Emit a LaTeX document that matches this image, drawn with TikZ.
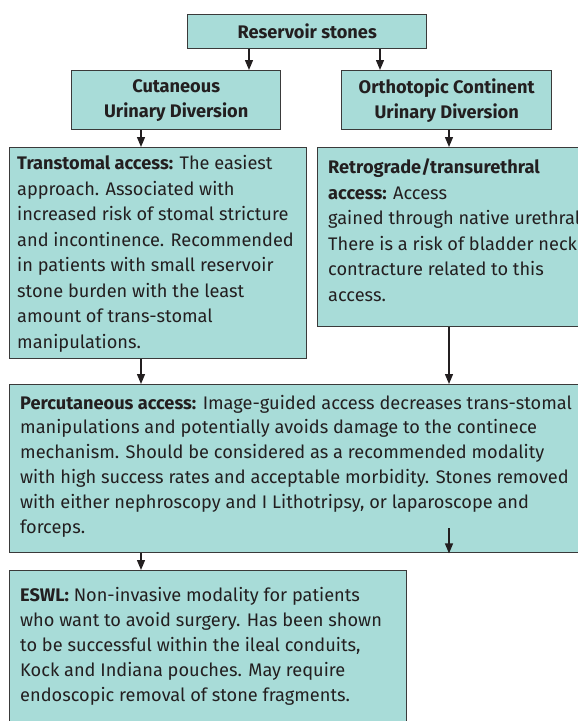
\documentclass[tikz,border=0pt]{standalone}
\usepackage{fontspec}
\setmainfont{Fira Sans}
\usetikzlibrary{arrows.meta}
\definecolor{boxfill}{HTML}{A8DCD8}
\definecolor{boxline}{HTML}{3A3A3A}
\definecolor{txt}{HTML}{231F20}
\newcommand{\mylines}[1]{\begin{tabular}[t]{@{}l@{}}#1\end{tabular}}
\tikzset{
  box/.style={draw=boxline, fill=boxfill, line width=1.4pt, inner sep=0pt, text=txt,
    font=\fontsize{18.2}{25}\selectfont},
  body/.style={inner sep=0pt, text=txt, anchor=base west},
  arr/.style={draw=txt, line width=1.3pt, -{Triangle[length=10pt,width=8pt]}},
}
\begin{document}
\begin{tikzpicture}[x=1pt,y=-1pt]
\useasboundingbox (0,0) rectangle (578,721);
\clip (0,0) rectangle (578,721);
% top level
\node[box, anchor=north west, minimum width=239pt, minimum height=34pt] (res) at (187,14) {\textbf{Reservoir stones}};
\node[box, anchor=north west, minimum width=209pt, minimum height=59pt, align=center] (cut) at (71,70) {\textbf{Cutaneous}\\\textbf{Urinary Diversion}};
\node[box, anchor=north west, minimum width=210pt, minimum height=59pt, align=center] (ort) at (341,70) {\textbf{Orthotopic Continent}\\\textbf{Urinary Diversion}};
% access boxes
\node[box, anchor=north west, minimum width=297pt, minimum height=211pt] (trans) at (9,147) {};
\node[body, font=\fontsize{18.2}{25.5}\selectfont] (transT) at (17,169.5) {\mylines{\textbf{Transtomal access:} The easiest\\approach. Associated with\\increased risk of stomal stricture\\and incontinence. Recommended\\in patients with small reservoir\\stone burden with the least\\amount of trans-stomal\\manipulations.}};
\node[box, anchor=north west, minimum width=320pt, minimum height=179pt] (retro) at (317,147) {};
\node[body, font=\fontsize{18.2}{25.5}\selectfont] (retroT) at (328,173.5) {\mylines{\textbf{Retrograde/transurethral}\\\textbf{access:} Access\\gained through native urethral.\\There is a risk of bladder neck\\contracture related to this\\access.}};
\node[box, anchor=north west, minimum width=600pt, minimum height=168pt] (perc) at (9,384) {};
\node[body, font=\fontsize{18.2}{24.8}\selectfont] (percT) at (20,409) {\mylines{\textbf{Percutaneous access:} Image-guided access decreases trans-stomal\\manipulations and potentially avoids damage to the continece\\mechanism. Should be considered as a recommended modality\\with high success rates and acceptable morbidity. Stones removed\\with either nephroscopy and I Lithotripsy, or laparoscope and\\forceps.}};
\node[box, anchor=north west, minimum width=397pt, minimum height=170pt] (eswl) at (9,570) {};
\node[body, font=\fontsize{18.2}{25}\selectfont] (eswlT) at (20,601.5) {\mylines{\textbf{ESWL:} Non-invasive modality for patients\\who want to avoid surgery. Has been shown\\to be successful within the ileal conduits,\\Kock and Indiana pouches. May require\\endoscopic removal of stone fragments.}};
% arrow columns
\coordinate (c1) at (249,0);
\coordinate (c2) at (380,0);
\coordinate (c3) at (141,0);
\coordinate (c4) at (449,0);
\coordinate (s1) at (449,528);
\draw[arr] (c1 |- res.south) -- (c1 |- cut.north);
\draw[arr] (c2 |- res.south) -- (c2 |- ort.north);
\draw[arr] (c3 |- cut.south) -- (c3 |- trans.north);
\draw[arr] (c4 |- ort.south) -- (c4 |- retro.north);
\draw[arr] (c3 |- trans.south) -- (c3 |- perc.north);
\draw[arr] (c4 |- retro.south) -- (c4 |- perc.north);
\draw[arr] (s1) -- (s1 |- perc.south);
\draw[arr] (c3 |- perc.south) -- (c3 |- eswl.north);
\end{tikzpicture}
\end{document}
